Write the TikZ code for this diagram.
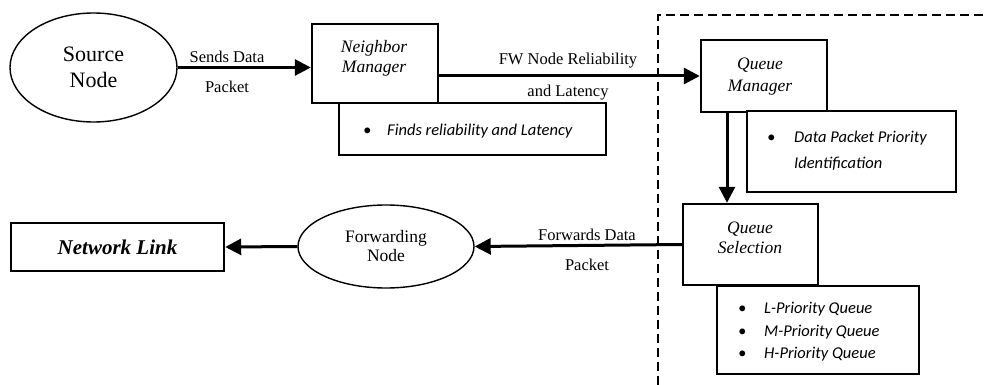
\documentclass[tikz,border=0pt]{standalone}
\usepackage{fontspec}
\setmainfont{Liberation Serif}
\newfontfamily\carl{Carlito}
\usetikzlibrary{arrows.meta,shapes.geometric}
\begin{document}
\begin{tikzpicture}[x=1pt,y=-1pt,
  box/.style={draw, line width=2.4pt, fill=white, inner sep=0pt},
  oval/.style={draw, ellipse, line width=1.4pt, inner sep=0pt},
  conn/.style={line width=3pt, -{Triangle[length=16pt,width=16pt]}},
  lbl/.style={align=center, inner sep=0pt, font=\fontsize{16.5}{30}\selectfont},
  ttl/.style={align=center, inner sep=0pt, font=\fontsize{17.5}{20}\selectfont\itshape},
  blist/.style={align=left, inner sep=0pt, anchor=west, font=\fontsize{16.5}{22.5}\selectfont\carl\itshape},
  dashbox/.style={line width=2.5pt, dash pattern=on 9pt off 5pt}]
\useasboundingbox (0,0) rectangle (987,385);

% dashed region
\draw[dashbox] (658,385) -- (658,15) -- (987,15);

% nodes
\node[oval, minimum width=167pt, minimum height=109pt, align=center,
      font=\fontsize{22}{26}\selectfont] (src) at (93.5,67.5) {Source\\Node};
\node[box, minimum width=126pt, minimum height=79pt] (nm) at (375,63.5) {};
\node[ttl] (nmt) at (374,58) {Neighbor\\Manager};
\node[box, minimum width=267pt, minimum height=52pt] (finds) at (472.5,129) {};
\node[blist] (findst) at (363,131) {\makebox[24pt][l]{•}Finds reliability and Latency};

\node[box, minimum width=126pt, minimum height=72pt] (qm) at (764,76) {};
\node[ttl, font=\fontsize{17.5}{22}\selectfont\itshape] (qmt) at (760,77) {Queue\\Manager};
\node[box, minimum width=209pt, minimum height=81pt] (dp) at (851.5,151.5) {};
\node[blist, font=\fontsize{16.5}{26}\selectfont\carl\itshape] (dpt) at (767,151)
  {\makebox[27pt][l]{•}Data Packet Priority\\\hspace*{27pt}Identification};

\node[box, minimum width=135pt, minimum height=81pt] (qs) at (750.5,244.5) {};
\node[ttl] (qst) at (750,238) {Queue\\Selection};
\node[box, minimum width=202pt, minimum height=88pt] (pr) at (818,330) {};
\node[blist] (prt) at (738,332)
  {\makebox[26pt][l]{•}L-Priority Queue\\\makebox[26pt][l]{•}M-Priority Queue\\\makebox[26pt][l]{•}H-Priority Queue};

\node[oval, minimum width=176pt, minimum height=83pt, align=center,
      font=\fontsize{17.5}{19}\selectfont] (fw) at (386,246.5) {Forwarding\\Node};
\node[box, minimum width=213pt, minimum height=48pt,
      font=\fontsize{21}{24}\selectfont\bfseries\itshape] (nl) at (117.5,247) {Network Link};

% connectors
\draw[conn] (src.east) -- (src.east -| nm.west);
\draw[conn] (qm.west -| nm.east) -- (qm.west);
\coordinate (qmx) at (727,112);
\draw[conn] (qmx) -- (qmx |- qs.north);
\draw[conn] (qs.west) -- (fw.east);
\draw[conn] (fw.west) -- (nl.east);

% connector labels
\node[lbl] (l1) at (227,72) {Sends Data\\Packet};
\node[lbl, font=\fontsize{16.5}{32}\selectfont] (l2) at (568,77) {FW Node Reliability\\and Latency};
\node[lbl] (l3) at (587,250) {Forwards Data\\Packet};
\end{tikzpicture}
\end{document}
